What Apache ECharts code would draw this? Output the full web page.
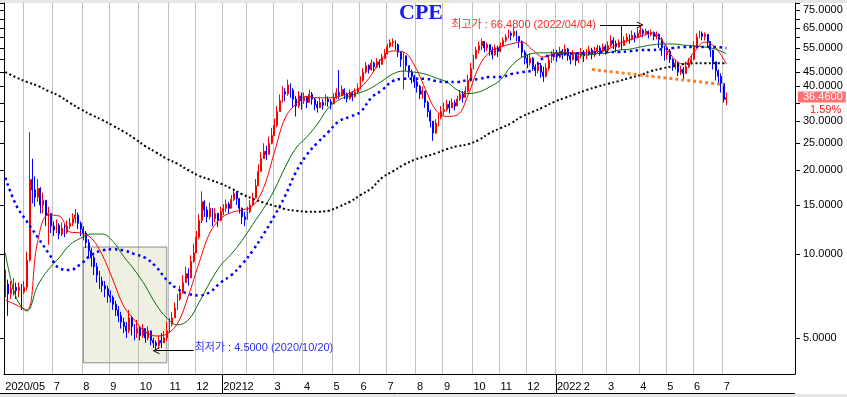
<!DOCTYPE html>
<html>
<head>
<meta charset="utf-8">
<script src="https://cdn.jsdelivr.net/npm/echarts@6/dist/echarts.min.js"></script>
<style>
html, body { margin: 0; padding: 0; background: #fff; }
#chart { width: 847px; height: 397px; }
</style>
</head>
<body>
<div id="chart"></div>
<script>
// 월별 (2020/05 ~ 2022/07), bars of ~2 trading days
const months = ['2020/05', '2020/06', '2020/07', '2020/08', '2020/09', '2020/10', '2020/11', '2020/12',
  '2021/01', '2021/02', '2021/03', '2021/04', '2021/05', '2021/06', '2021/07', '2021/08', '2021/09',
  '2021/10', '2021/11', '2021/12', '2022/01', '2022/02', '2022/03', '2022/04', '2022/05', '2022/06', '2022/07']

const closes = [
  [7.8, 7.2, 7.5, 7.6, 7.4, 7.6, 7.3],
  [7.6, 9.5, 18.5, 17.0, 16.0, 17.2, 15.0, 15.6, 13.8, 14.0, 12.6],
  [12.2, 12.7, 11.8, 12.4, 12.0, 12.6, 12.9, 13.4, 13.8, 12.9, 12.3],
  [11.9, 11.0, 10.3, 9.7, 9.0, 8.4, 8.0, 7.7, 7.5, 7.1],
  [7.0, 6.6, 6.3, 6.0, 5.7, 5.5, 5.3, 5.9, 5.5, 5.2, 5.4],
  [5.1, 5.4, 5.0, 5.3, 4.9, 4.8, 4.7, 4.9, 4.8, 5.0, 5.3],
  [5.6, 5.9, 6.4, 6.9, 7.3, 7.9, 8.5, 8.2, 9.4, 10.1],
  [11.5, 13.2, 15.4, 14.4, 13.6, 14.6, 13.4, 14.0, 13.2, 14.2],
  [14.6, 15.1, 14.6, 15.7, 16.5, 15.8, 14.6, 13.6, 13.3],
  [14.2, 15.0, 15.9, 17.6, 19.8, 22.0, 23.4, 22.8, 25.0, 26.6],
  [29.0, 32.5, 35.5, 38.3, 37.6, 40.5, 38.8, 36.0, 34.0, 37.0, 35.5],
  [36.6, 35.0, 37.5, 36.0, 34.4, 33.6, 35.0, 34.2, 36.0, 35.2, 34.6],
  [36.5, 38.0, 37.2, 39.0, 37.5, 36.2, 37.8, 36.8, 38.2, 39.4],
  [42.0, 45.0, 47.5, 46.0, 48.5, 47.0, 49.0, 48.0, 50.5, 52.5],
  [55.5, 57.5, 58.0, 56.5, 53.0, 50.0, 51.5, 47.5, 45.0, 43.5, 41.5],
  [40.0, 37.5, 38.5, 35.0, 32.5, 30.0, 27.2, 29.5, 31.0, 32.5],
  [33.0, 34.5, 33.5, 35.0, 34.0, 36.0, 37.5, 36.5, 38.5, 42.0, 46.5],
  [50.5, 54.0, 56.0, 58.0, 55.0, 56.5, 54.0, 52.0, 55.0, 53.5],
  [56.0, 58.5, 60.0, 62.0, 61.0, 63.0, 60.5, 58.0, 53.0, 50.5],
  [48.5, 50.5, 47.0, 45.5, 47.5, 45.0, 43.5, 46.5, 49.5, 51.0, 52.5],
  [51.0, 53.5, 52.0, 54.5, 51.5, 50.0, 52.5, 49.5, 51.5, 53.0],
  [51.5, 52.5, 54.0, 52.0, 53.5, 55.0, 53.5, 55.5, 54.0],
  [56.0, 58.5, 57.0, 55.5, 57.5, 56.0, 58.5, 60.0, 59.0, 61.0, 60.0, 62.0],
  [63.5, 62.0, 63.0, 61.5, 62.5, 60.5, 61.5, 59.0, 55.0, 52.0],
  [53.5, 50.0, 47.0, 48.5, 45.0, 46.0, 44.5, 47.0, 48.5, 50.0],
  [56.0, 60.0, 62.0, 60.5, 61.5, 58.0, 54.0, 49.0, 45.5, 43.5, 41.0],
  [35.89, 36.46]
]

const highs = [
  [8.8, 8.1, 8.0, 8.2, 7.9, 7.9, 7.8],
  [8.0, 10.2, 27.4, 22.0, 19.0, 18.6, 17.4, 16.6, 15.2, 14.8, 14.0],
  [13.1, 13.3, 12.9, 13.0, 12.8, 13.2, 13.5, 14.0, 14.5, 14.1, 13.1],
  [12.6, 12.1, 11.3, 10.5, 9.9, 9.3, 8.7, 8.3, 8.0, 7.7],
  [7.4, 7.1, 6.8, 6.5, 6.2, 5.9, 5.7, 6.3, 6.0, 5.6, 5.8],
  [5.5, 5.6, 5.4, 5.5, 5.2, 5.0, 4.9, 5.1, 5.2, 5.3, 5.7],
  [5.9, 6.2, 6.7, 7.2, 7.7, 8.4, 9.0, 8.9, 9.9, 10.9],
  [12.1, 13.9, 16.8, 15.6, 14.8, 15.3, 14.5, 14.6, 14.0, 14.8],
  [15.1, 15.7, 15.4, 16.3, 17.2, 16.8, 15.9, 14.7, 14.2],
  [14.8, 15.6, 16.6, 18.6, 21.0, 23.2, 25.0, 24.5, 26.4, 28.4],
  [30.6, 34.0, 37.4, 40.0, 39.4, 42.3, 41.0, 39.4, 37.0, 38.4, 38.0],
  [38.0, 37.0, 39.0, 38.2, 36.4, 35.4, 36.4, 36.0, 37.4, 36.8, 36.0],
  [37.8, 39.4, 45.8, 40.4, 39.4, 38.0, 39.0, 38.4, 39.4, 41.0],
  [43.5, 46.5, 49.0, 48.0, 50.0, 49.0, 50.5, 50.0, 52.5, 54.5],
  [57.0, 59.0, 59.5, 58.5, 57.0, 53.5, 53.0, 51.0, 47.5, 46.0, 44.0],
  [43.0, 40.5, 40.0, 38.5, 35.5, 33.0, 30.0, 30.5, 32.0, 34.0],
  [35.0, 35.8, 35.5, 36.2, 35.8, 37.0, 38.8, 38.5, 40.0, 44.0, 48.5],
  [52.0, 55.5, 58.0, 59.5, 58.0, 57.5, 56.5, 55.5, 56.5, 56.0],
  [57.5, 60.0, 61.5, 64.0, 63.0, 66.0, 63.5, 60.5, 58.5, 54.0],
  [52.0, 52.5, 51.0, 48.0, 49.0, 48.5, 47.0, 48.5, 51.5, 53.5, 54.5],
  [54.0, 55.5, 54.5, 56.5, 55.0, 52.5, 54.0, 52.5, 53.0, 55.0],
  [54.0, 54.5, 56.0, 55.0, 55.5, 56.5, 56.0, 57.0, 56.5],
  [58.0, 61.0, 60.0, 58.5, 59.0, 66.0, 60.5, 62.0, 61.5, 63.5, 62.5, 64.5],
  [66.48, 64.5, 64.5, 63.5, 64.0, 63.0, 63.0, 62.0, 60.0, 56.0],
  [56.0, 54.5, 50.5, 50.0, 49.0, 47.5, 47.0, 49.0, 50.5, 52.0],
  [58.0, 62.0, 63.5, 63.0, 62.5, 61.0, 58.0, 54.0, 48.0, 46.0, 44.5],
  [40.0, 38.0]
]

const lows = [
  [7.0, 6.0, 6.9, 7.1, 6.9, 7.0, 6.3],
  [7.2, 7.4, 9.4, 15.2, 14.8, 15.4, 14.0, 14.0, 12.6, 10.8, 11.9],
  [11.6, 11.9, 11.3, 11.6, 11.5, 11.8, 12.3, 12.6, 12.9, 12.3, 11.6],
  [11.2, 10.5, 9.7, 9.0, 8.4, 7.9, 7.5, 7.3, 7.0, 6.7],
  [6.7, 6.3, 6.0, 5.7, 5.4, 5.2, 5.0, 5.2, 5.1, 4.9, 5.0],
  [4.9, 5.0, 4.8, 4.9, 4.7, 4.6, 4.5, 4.6, 4.6, 4.8, 4.9],
  [5.2, 5.5, 5.9, 6.3, 6.8, 7.2, 7.9, 7.7, 8.3, 9.3],
  [10.2, 11.3, 12.9, 13.6, 13.0, 13.3, 12.6, 13.0, 12.5, 13.1],
  [13.8, 14.2, 14.0, 14.6, 15.5, 15.0, 14.0, 12.8, 12.6],
  [13.4, 14.0, 15.0, 16.6, 17.9, 20.3, 22.0, 21.8, 23.2, 24.8],
  [26.6, 28.5, 32.4, 35.0, 35.4, 37.0, 36.4, 33.4, 31.2, 33.4, 33.0],
  [34.6, 33.4, 35.4, 34.4, 32.8, 32.2, 33.4, 33.0, 34.4, 33.8, 33.0],
  [34.8, 36.0, 36.0, 37.0, 36.0, 35.0, 35.8, 35.4, 36.4, 37.6],
  [39.0, 41.5, 44.5, 44.5, 45.5, 45.0, 46.5, 46.5, 48.0, 50.0],
  [52.0, 55.0, 55.5, 54.0, 51.0, 47.0, 39.0, 45.5, 43.0, 41.0, 39.5],
  [38.0, 36.0, 36.0, 33.5, 31.0, 28.5, 25.5, 27.0, 28.8, 30.5],
  [31.5, 32.5, 32.0, 33.5, 32.8, 34.0, 35.5, 35.0, 36.5, 38.0, 41.5],
  [46.0, 50.0, 52.5, 54.0, 53.0, 53.5, 51.5, 50.0, 51.5, 51.0],
  [53.0, 55.5, 57.5, 59.5, 58.5, 60.0, 58.0, 55.0, 51.0, 48.0],
  [46.5, 47.5, 45.5, 43.5, 44.5, 43.0, 41.5, 43.0, 45.5, 48.5, 49.5],
  [49.0, 50.5, 50.0, 51.5, 49.5, 48.0, 49.5, 47.5, 48.5, 50.5],
  [49.0, 50.0, 51.5, 50.0, 51.0, 52.5, 51.5, 53.0, 52.0],
  [53.5, 55.5, 54.5, 53.0, 55.0, 54.0, 56.0, 57.5, 57.0, 58.5, 57.5, 59.5],
  [60.5, 60.0, 61.0, 59.5, 60.5, 58.5, 59.0, 55.0, 51.5, 49.5],
  [50.0, 48.5, 45.5, 46.0, 43.5, 44.0, 42.5, 44.5, 46.5, 48.0],
  [50.0, 56.0, 59.5, 58.5, 58.5, 55.0, 51.0, 46.0, 42.0, 40.5, 38.0],
  [35.0, 34.2]
]

// 이동평균선, one reading every maStep bars
const maStep = 4
const maRed = [6.84, 6.57, 6.30, 11.1, 13.8, 13.7, 12.0, 11.9, 11.4, 9.93, 8.07, 6.5, 5.80, 5.26, 5.08, 5.17,
  5.64, 7.07, 9.29, 11.9, 13.4, 14.1, 14.4, 14.9, 17.3, 23.2, 30.8, 34.6, 36.8, 36.4, 36.4, 36.8, 37.9, 39.7,
  43.9, 50.6, 53.6, 53.1, 47.7, 39.4, 32.9, 31.2, 31.6, 37.3, 47.0, 53.1, 55.4, 56.8, 57.7, 54.0, 51.0, 52.4,
  52.8, 52.8, 52.8, 53.3, 54.4, 57.0, 58.7, 60.4, 62.2, 58.7, 51.0, 48.1, 53.1, 57.7, 55.0, 48.1]
const maGreen = [10.1, 7.0, 6.25, 7.7, 8.8, 9.7, 10.8, 11.4, 11.8, 11.8, 11.1, 9.8, 8.77, 7.7, 6.6, 5.9, 5.57,
  5.8, 6.7, 7.9, 9.1, 10.0, 11.2, 12.8, 14.6, 17.0, 20.5, 24.0, 26.3, 29.3, 33.4, 35.8, 37.0, 38.0, 39.5, 41.8,
  44.3, 45.4, 45.0, 44.3, 42.9, 41.5, 38.8, 37.7, 38.2, 39.8, 42.2, 47.3, 50.9, 52.5, 52.8, 52.8, 52.8, 52.4,
  51.9, 52.4, 52.8, 54.0, 54.4, 55.4, 56.3, 56.8, 56.8, 56.3, 55.9, 55.4, 54.4, 52.4]
const maBlue = [18.8, 15.0, 13.1, 11.5, 10.1, 8.9, 8.77, 9.2, 9.93, 10.3, 10.4, 10.3, 10.0, 9.7, 9.0, 8.07, 7.5,
  7.2, 7.1, 7.3, 7.9, 8.4, 9.2, 10.3, 11.8, 13.7, 16.2, 19.7, 22.7, 25.1, 27.4, 30.0, 31.1, 32.4, 36.4, 38.8,
  41.8, 42.6, 42.6, 42.6, 41.8, 41.5, 41.5, 42.2, 42.5, 43.2, 43.2, 44.3, 45.0, 45.8, 50.7, 51.8, 52.2, 52.6,
  52.6, 53.1, 53.1, 53.1, 53.5, 54.0, 54.0, 54.4, 54.9, 55.4, 55.4, 55.4, 55.4, 54.9]
const maBlack = [45.0, 43.1, 41.5, 40.2, 38.5, 37.0, 34.9, 33.1, 31.6, 30.3, 28.9, 27.5, 26.0, 24.4, 23.2, 22.0,
  21.1, 20.0, 19.1, 18.5, 17.9, 17.2, 16.4, 15.8, 15.3, 14.9, 14.5, 14.3, 14.2, 14.2, 14.3, 14.8, 15.4, 16.3,
  17.2, 18.8, 19.8, 20.9, 21.8, 22.4, 23.0, 23.8, 24.4, 24.8, 25.7, 27.2, 28.3, 29.5, 31.2, 32.4, 33.7, 35.2,
  36.4, 37.6, 38.8, 39.9, 40.9, 41.8, 42.9, 43.9, 45.4, 46.4, 47.2, 48.0, 48.4, 48.4, 48.4, 48.4]

// 최고가 / 최저가, box, trend line (category key = 'YYYY/MM-k')
const highPoint = ['2022/04-0', 66.48]
const highFrom = '2022/02-6'
const lowPoint = ['2020/10-6', 4.5]
const lowFrom = '2020/11-9'
const boxFrom = ['2020/08-0', 10.6]
const boxTo = ['2020/10-10', 4.07]
const trendFrom = ['2022/02-3', 46.0]
const trendTo = ['2022/07-0', 40.6]

const yTicks = [5, 10, 15, 20, 25, 30, 35, 40, 45, 50, 55, 60, 65, 70, 75, 80]
const yLabels = [5, 10, 15, 20, 25, 30, 40, 45, 55, 65, 75]
const padBars = 25

const FONT = "'Liberation Sans', 'Noto Sans CJK KR', sans-serif"
const plotLeft = 4
const plotRight = 795
const plotTop = 3
const plotBottom = 374

const cats = []
const candles = []
let prev = closes[0][0]
months.forEach((m, mi) => {
  closes[mi].forEach((c, k) => {
    cats.push(m + '-' + k)
    const o = prev
    candles.push([o, c, Math.min(lows[mi][k], o, c), Math.max(highs[mi][k], o, c)])
    prev = c
  })
})
const nBars = cats.length
for (let p = 0; p < padBars; p++) cats.push('pad-' + p)

const lastClose = candles[nBars - 1][1]
const prevClose = candles[nBars - 2][1]
const pct = ((lastClose / prevClose - 1) * 100).toFixed(2)

const isStart = (i) => i < nBars && cats[i].slice(-2) === '-0'
const maData = (arr) => arr.map((v, k) => [k * maStep, v])

const arrow = 'path://M0,10 L5,0 L10,10 L8.6,10 L5,2.8 L1.4,10 Z'

const chart = echarts.init(document.getElementById('chart'), null, { renderer: 'canvas' })

chart.setOption({
  animation: false,
  backgroundColor: '#fff',
  grid: { left: plotLeft, right: 847 - plotRight, top: plotTop, bottom: 397 - plotBottom, outerBoundsMode: 'none' },
  xAxis: {
    type: 'category',
    data: cats,
    axisLine: { lineStyle: { color: '#000', width: 1 } },
    axisTick: { interval: (i) => isStart(i), length: 4, lineStyle: { color: '#000' } },
    axisLabel: {
      interval: (i) => isStart(i) && cats[i] !== '2020/06-0',
      align: 'left',
      margin: 7,
      color: '#000',
      fontSize: 11,
      fontFamily: FONT,
      formatter: (v) => {
        const ym = v.split('-')[0]
        const [y, m] = ym.split('/')
        if (ym === months[0]) return ym
        if (m === '01') return y
        return String(+m)
      }
    },
    splitLine: { show: true, interval: (i) => isStart(i), lineStyle: { color: '#c0c0c0', width: 1 } }
  },
  yAxis: [
    {
      type: 'log', min: 3.71, max: 79.7, position: 'right',
      axisLine: { show: true, lineStyle: { color: '#000' } },
      axisTick: { show: false }, axisLabel: { show: false }, splitLine: { show: false }
    },
    {
      type: 'log', min: 3.71, max: 79.7, position: 'left',
      axisLine: { show: true, lineStyle: { color: '#000' } },
      axisTick: { show: false }, axisLabel: { show: false }, splitLine: { show: false }
    }
  ],
  series: [
    {
      type: 'candlestick',
      data: candles,
      barWidth: 1.4,
      clip: false,
      z: 2,
      itemStyle: { color: '#ff0000', color0: '#0000a0', borderColor: '#ff0000', borderColor0: '#0000ff', borderWidth: 1 },
      markArea: {
        silent: true,
        itemStyle: { color: 'rgba(190,190,140,0.25)', borderColor: '#8c8c8c', borderWidth: 1 },
        data: [[{ coord: boxFrom }, { coord: boxTo }]]
      },
      markLine: {
        silent: true,
        animation: false,
        symbol: ['none', 'none'],
        data: [
          [
            {
              coord: [highFrom, highPoint[1]],
              lineStyle: { color: '#000', width: 1, type: 'solid' },
              label: { show: true, position: 'start', distance: 4, color: '#ff2a2a', fontSize: 11, fontFamily: FONT, formatter: '최고가 : ' + highPoint[1].toFixed(4) + ' (2022/04/04)' }
            },
            { coord: highPoint, symbol: arrow, symbolSize: [7, 7] }
          ],
          [
            {
              coord: [lowFrom, lowPoint[1]],
              lineStyle: { color: '#000', width: 1, type: 'solid' },
              label: { show: true, position: 'start', distance: 1, offset: [0, -3], color: '#3030f0', fontSize: 11, fontFamily: FONT, formatter: '최저가 : ' + lowPoint[1].toFixed(4) + ' (2020/10/20)' }
            },
            { coord: lowPoint, symbol: arrow, symbolSize: [7, 7] }
          ],
          [
            { coord: trendFrom, lineStyle: { color: '#ff7f27', width: 3, type: [3, 3], cap: 'butt' }, label: { show: false } },
            { coord: trendTo }
          ],
          {
            yAxis: lastClose,
            lineStyle: { color: 'rgba(0,0,0,0)', width: 0 },
            label: {
              show: true, position: 'end', distance: 3, offset: [0, 6],
              formatter: '{a|' + lastClose.toFixed(4) + '}\n{b|' + pct + '%}',
              rich: {
                a: { color: '#fff', backgroundColor: '#ff7070', fontSize: 11, fontFamily: FONT, lineHeight: 13, padding: [0, 3, 0, 5] },
                b: { color: '#ff1a1a', backgroundColor: '#fff', fontSize: 11, fontFamily: FONT, lineHeight: 13, padding: [0, 5, 0, 12] }
              }
            }
          }
        ]
      }
    },
    { type: 'line', data: maData(maRed), symbol: 'none', smooth: 0.4, z: 3, silent: true, lineStyle: { color: '#ff0000', width: 1 } },
    { type: 'line', data: maData(maGreen), symbol: 'none', smooth: 0.4, z: 3, silent: true, lineStyle: { color: '#0a6e0a', width: 1 } },
    { type: 'line', data: maData(maBlue), symbol: 'none', smooth: 0.4, z: 3, silent: true, lineStyle: { color: '#0000ff', width: 2.5, type: [2.5, 3.5], cap: 'butt' } },
    { type: 'line', data: maData(maBlack), symbol: 'none', smooth: 0.4, z: 3, silent: true, lineStyle: { color: '#000', width: 2, type: [2, 2.5], cap: 'butt' } }
  ]
})

// 가격축 눈금/라벨, 연도 구분선
const yPix = (v) => chart.convertToPixel({ yAxisIndex: 0 }, v)
const xPix = (c) => chart.convertToPixel({ xAxisIndex: 0 }, c)
const band = xPix(cats[1]) - xPix(cats[0])
const g = []
g.push({ type: 'rect', shape: { x: 0, y: 0, width: 847, height: plotTop }, style: { fill: '#e6e6e6' } })
g.push({ type: 'rect', shape: { x: 0, y: 394, width: 847, height: 3 }, style: { fill: '#e6e6e6' } })
g.push({ type: 'line', shape: { x1: 0, y1: 393.5, x2: plotRight, y2: 393.5 }, style: { stroke: '#000', lineWidth: 1 } })
yTicks.forEach((v) => {
  const y = Math.round(yPix(v)) + 0.5
  g.push({ type: 'line', shape: { x1: plotRight, y1: y, x2: plotRight + 5, y2: y }, style: { stroke: '#000', lineWidth: 1 } })
  g.push({ type: 'line', shape: { x1: 0, y1: y, x2: plotLeft, y2: y }, style: { stroke: '#000', lineWidth: 1 } })
})
yLabels.forEach((v) => {
  g.push({ type: 'text', x: plotRight + 8, y: yPix(v), z: 1, style: { text: v.toFixed(4), fill: '#000', font: '11px ' + FONT, align: 'left', verticalAlign: 'middle' } })
})
;['2021/01-0', '2022/01-0'].forEach((c) => {
  const x = Math.round(xPix(c) - band / 2) + 0.5
  g.push({ type: 'line', shape: { x1: x, y1: plotBottom, x2: x, y2: 393 }, style: { stroke: '#000', lineWidth: 1 } })
})
g.push({ type: 'text', x: 421, y: 13, style: { text: 'CPE', fill: '#1c1cf0', font: "bold 22px 'Liberation Serif', serif", align: 'center', verticalAlign: 'middle' } })
chart.setOption({ graphic: g })
</script>
</body>
</html>
